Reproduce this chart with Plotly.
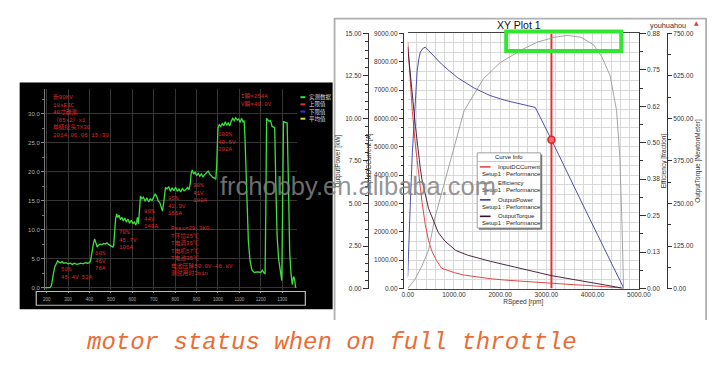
import plotly.graph_objects as go

W, H = 721, 373
def px(x): return x / W
def py(y): return 1 - y / H

# ---------------- left panel: thrust test log ----------------
log_x = [193, 215, 222, 226, 232, 238, 245, 252, 258, 265, 272, 280, 290, 300, 310, 320, 330, 340, 350, 360, 370, 380, 390, 400, 405,
         410, 418, 424, 430, 436, 442, 450, 458, 466, 474, 482, 490, 498, 505, 510,
         513, 517, 522, 527, 532, 538, 545, 552, 558, 565, 572, 580, 587, 595, 603, 610, 616, 620, 624, 629, 633,
         638, 645, 652, 660, 668, 676, 684, 692, 700, 707, 714, 721, 728, 735, 741, 746, 750, 755,
         762, 770, 778, 786, 794, 802, 810, 818, 826, 834, 842, 850, 858, 865, 871, 875, 880,
         886, 893, 900, 908, 915, 922, 930, 938, 946, 954, 961, 968, 976, 984, 990, 994, 997,
         1000, 1006, 1013, 1020, 1027, 1034, 1041, 1048, 1055, 1062, 1069, 1076, 1083, 1090, 1097, 1104, 1110, 1117, 1122, 1126,
         1129, 1135, 1142, 1150, 1159, 1170, 1185, 1200, 1208, 1215, 1220,
         1223, 1227, 1238, 1245, 1253, 1265, 1270, 1276, 1283, 1291, 1298,
         1302, 1306, 1314, 1323, 1329, 1335, 1341, 1347, 1353, 1358, 1362, 1367]
log_y = [0, 0, 0.3, 1.5, 2.5, 3.6, 4.1, 4.6, 4.4, 4.3, 4.5, 4.2, 4.3, 4.1, 4.2, 4.0, 4.2, 4.0, 4.1, 4.2, 4.1, 4.3, 4.2, 4.3, 4.6,
         6.0, 7.5, 8.4, 7.6, 7.0, 7.3, 7.5, 7.4, 7.6, 7.5, 7.7, 7.4, 7.2, 7.1, 7.0,
         7.3, 9.8, 11.8, 12.7, 12.1, 12.5, 11.7, 12.1, 11.5, 12.0, 11.3, 11.8, 11.1, 11.6, 11.0, 11.4, 10.8, 11.2, 12.1, 11.0, 13.5,
         15.8, 15.3, 15.6, 14.9, 15.5, 14.8, 15.3, 15.0, 15.8, 16.2, 15.7, 14.9, 14.7, 13.8, 13.2, 14.5, 16.5, 17.3,
         17.0, 17.4, 16.6, 17.2, 16.7, 17.3, 16.6, 17.0, 16.5, 17.1, 16.7, 16.9, 17.3, 16.9, 18.0, 19.8, 20.3,
         19.6, 19.9, 19.3, 19.7, 19.2, 19.6, 19.1, 19.5, 19.8, 20.1, 19.6, 19.3, 19.0, 18.9, 18.7, 21.0, 25.5,
         27.6, 28.1, 27.8, 28.3, 27.9, 28.6, 28.0, 28.4, 27.9, 28.7, 29.2, 28.8, 29.3, 28.9, 29.1, 28.5, 29.2, 28.6, 28.8, 26.0,
         22.0, 15.0, 8.0, 4.5, 3.0, 2.6, 2.7, 2.6, 3.0, 2.5, 2.4,
         12.0, 29.2, 28.7, 28.8, 27.8, 27.6, 18.0, 9.0, 5.0, 2.8, 1.2,
         15.0, 28.7, 28.5, 28.4, 18.0, 6.0, 2.5, 0.5, 1.9, 1.5, 0.1, 0]
log_xticks = [200, 300, 400, 500, 600, 700, 800, 900, 1000, 1100, 1200, 1300]
log_yticks = [0, 5, 10, 15, 20, 25, 30]
log_legend_names = ["实测数据", "上限值", "下限值", "平均值"]
log_legend_colors = ["#3ee03e", "#e03030", "#3030e0", "#d8d840"]

info_lines = ["新90KV", "18sE3C", "40寸碳桨", "（65x2）x1", "单级接头TX30", "2014.06.06 15:30"]
peak_lines = ["I瞬=254A", "V瞬=40.0V"]
step_texts = [["50%", "45.4V 52A"], ["60%", "46V", "76A"], ["70%", "45.7V", "106A"],
              ["80%", "44V", "140A"], ["85%", "42.9V", "156A"], ["90%", "41V", "180A"],
              ["100%", "40.5V", "202A"]]
step_pos = [(55, 270.7), (90, 254), (115, 232.7), (140, 211), (165, 198.3), (190.7, 185), (216, 132.7)]
summary_lines = ["Pmax=29.3KG", "T环境25℃", "T电调35℃", "T电机57℃", "T电池35℃", "电池压降50.0V-46.8V", "测试用时3min"]

# ---------------- right panel: XY Plot 1 ----------------
cur_rpm = [0, 50, 100, 170, 240, 310, 380, 450, 520, 620, 730, 850, 1010, 1200, 1500, 1800, 2100, 2500, 2800, 3200, 3600, 3900, 4200, 4450, 4650]
cur_amp = [8700, 7500, 6250, 5000, 3950, 3050, 2250, 1700, 1330, 1000, 720, 640, 560, 480, 400, 345, 300, 250, 215, 170, 135, 110, 80, 45, 15]

pow_rpm = [0, 15, 28, 45, 63, 100, 133, 170, 204, 240, 274, 320, 380, 450, 550, 730, 900, 1080, 1430, 1780, 2130, 2480, 2760, 3110, 3450, 3750, 4100, 4400, 4590, 4670]
pow_kw = [0.7, 1.5, 2.8, 4.2, 5.7, 8.0, 9.5, 11.3, 12.8, 13.5, 13.9, 14.1, 14.2, 14.0, 13.7, 13.2, 12.8, 12.4, 11.8, 11.35, 11.05, 10.85, 10.65, 8.75, 6.8, 5.15, 3.2, 1.5, 0.5, 0.05]

eff_rpm = [0, 150, 300, 449, 590, 800, 975, 1220, 1640, 2000, 2480, 2800, 3180, 3450, 3750, 4020, 4200, 4380, 4520, 4590, 4640, 4670]
eff_val = [0, 0.03, 0.075, 0.13, 0.244, 0.367, 0.468, 0.61, 0.72, 0.775, 0.82, 0.845, 0.862, 0.868, 0.862, 0.836, 0.795, 0.73, 0.61, 0.45, 0.2, 0]

trq_rpm = [0, 50, 98, 168, 274, 309, 449, 590, 660, 800, 1040, 1300, 1790, 2480, 3110, 3700, 4240, 4500, 4670]
trq_nm = [710, 640, 572, 476, 352, 320, 236, 190, 165, 140, 112, 98, 80, 58, 38, 24, 12, 5, 0]

marker_rpm = 3110
marker_kw = 8.75

eff_tickvals = [0, 0.125, 0.25, 0.375, 0.5, 0.625, 0.75, 0.875]
eff_ticktext = ["0.00", "0.13", "0.25", "0.38", "0.50", "0.62", "0.75", "0.88"]

curve_names = ["InputDCCurrent", "Efficiency", "OutputPower", "OutputTorque"]
curve_colors = ["#e04848", "#9a9a9a", "#3c3ca0", "#3a1030"]
setup_label = "Setup1 : Performance"

caption = "motor status when on full throttle"
watermark = "frchobby.en.alibaba.com"

fig = go.Figure()

# left chart trace
fig.add_trace(go.Scatter(x=log_x, y=log_y, xaxis="x", yaxis="y", mode="lines",
                         line=dict(color=log_legend_colors[0], width=1.3),
                         name=log_legend_names[0], showlegend=False))

# right chart traces
fig.add_trace(go.Scatter(x=eff_rpm, y=eff_val, xaxis="x2", yaxis="y4", mode="lines",
                         line=dict(color=curve_colors[1], width=0.9), name=curve_names[1], showlegend=False))
fig.add_trace(go.Scatter(x=trq_rpm, y=trq_nm, xaxis="x2", yaxis="y5", mode="lines",
                         line=dict(color=curve_colors[3], width=0.9), name=curve_names[3], showlegend=False))
fig.add_trace(go.Scatter(x=pow_rpm, y=pow_kw, xaxis="x2", yaxis="y3", mode="lines",
                         line=dict(color=curve_colors[2], width=0.9), name=curve_names[2], showlegend=False))
fig.add_trace(go.Scatter(x=cur_rpm, y=cur_amp, xaxis="x2", yaxis="y2", mode="lines",
                         line=dict(color=curve_colors[0], width=1), name=curve_names[0], showlegend=False))
fig.add_trace(go.Scatter(x=[marker_rpm, marker_rpm], y=[0, 9000], xaxis="x2", yaxis="y2", mode="lines",
                         line=dict(color="#e03434", width=2), name="marker", showlegend=False))
fig.add_trace(go.Scatter(x=[marker_rpm], y=[marker_kw], xaxis="x2", yaxis="y3", mode="markers",
                         marker=dict(size=7, color="#f47070", line=dict(color="#e02020", width=1.5)),
                         name="marker point", showlegend=False))

axfont = dict(family="Liberation Sans, Arial", size=6.5, color="#333")
ttlfont = dict(family="Liberation Sans, Arial", size=6.5, color="#333")

fig.update_layout(
    width=W, height=H, margin=dict(l=0, r=0, t=0, b=0),
    paper_bgcolor="white", plot_bgcolor="rgba(0,0,0,0)",
    showlegend=False,
    xaxis=dict(domain=[px(40), px(298)], range=[192.3, 1367], anchor="y",
               tickvals=log_xticks, tickfont=dict(family="Liberation Sans", size=4.5, color="#aaa"),
               ticks="outside", ticklen=2, tickcolor="#888", showgrid=True, gridcolor="#353535",
               zeroline=False, showline=False, ticklabelstandoff=3),
    yaxis=dict(domain=[py(291), py(87)], range=[-0.34, 34.2], anchor="x",
               tickvals=log_yticks, tickformat=".1f",
               tickfont=dict(family="Liberation Sans", size=6, color="#b0b0b0"),
               ticks="outside", ticklen=3, tickcolor="#888",
               minor=dict(dtick=2.5, ticks="outside", ticklen=2, tickcolor="#777"),
               showgrid=True, gridcolor="#353535", zeroline=False,
               showline=True, linecolor="#777", linewidth=1),
    xaxis2=dict(domain=[px(412), px(649)], range=[0, 5000], anchor="y2",
                dtick=1000, tick0=0, tickformat=".2f", tickfont=axfont,
                showgrid=True, gridcolor="#d9d9d9",
                minor=dict(dtick=200, showgrid=True, gridcolor="#d9d9d9"),
                showline=True, linecolor="#444", linewidth=1, mirror=True, zeroline=False,
                ticks="", title=dict(text="RSpeed [rpm]", font=ttlfont, standoff=1)),
    yaxis2=dict(domain=[py(290), py(30)], range=[0, 9000], anchor="free", position=px(407),
                dtick=1000, tickformat=".2f", tickfont=axfont,
                ticks="outside", ticklen=4, tickcolor="#333",
                showgrid=True, gridcolor="#d9d9d9",
                minor=dict(dtick=1000 / 3, showgrid=True, gridcolor="#d9d9d9",
                           ticks="outside", ticklen=2, tickcolor="#333"),
                showline=True, linecolor="#333", linewidth=1, zeroline=False,
                title=dict(text="InputDCCurrent [A]", font=ttlfont, standoff=0)),
    yaxis3=dict(overlaying="y2", range=[0, 15], anchor="free", position=px(371), side="left",
                dtick=2.5, tickformat=".2f", tickfont=axfont,
                ticks="outside", ticklen=5, tickcolor="#333",
                minor=dict(dtick=0.5, ticks="outside", ticklen=3, tickcolor="#333"),
                showgrid=False, showline=True, linecolor="#333", linewidth=1, zeroline=False,
                title=dict(text="OutputPower [kW]", font=ttlfont, standoff=2)),
    yaxis4=dict(overlaying="y2", range=[0, 0.875], anchor="x2", side="right",
                tickvals=eff_tickvals, ticktext=eff_ticktext, tickfont=axfont,
                ticks="outside", ticklen=6, tickcolor="#333",
                minor=dict(dtick=0.0625, ticks="outside", ticklen=3, tickcolor="#333"),
                showgrid=False, showline=True, linecolor="#333", linewidth=1, zeroline=False,
                title=dict(text="Efficiency [fraction]", font=ttlfont, standoff=1)),
    yaxis5=dict(overlaying="y2", range=[0, 750], anchor="free", position=px(678), side="right",
                dtick=125, tickformat=".2f", tickfont=axfont,
                ticks="outside", ticklen=4, tickcolor="#333",
                minor=dict(dtick=62.5, ticks="outside", ticklen=3, tickcolor="#333"),
                showgrid=False, showline=True, linecolor="#333", linewidth=1, zeroline=False,
                title=dict(text="OutputTorque [NewtonMeter]", font=ttlfont, standoff=2)),
)

shapes = []
# black panel of the left chart
shapes.append(dict(type="rect", xref="paper", yref="paper", x0=px(14), x1=px(335), y0=py(311), y1=py(80),
                   fillcolor="black", line=dict(width=0), layer="below"))
# box around left x labels
shapes.append(dict(type="rect", xref="paper", yref="paper", x0=px(31), x1=px(307), y0=py(307), y1=py(293),
                   fillcolor="rgba(0,0,0,0)", line=dict(color="#bbbbbb", width=1.2), layer="above"))
# frame of the right chart
shapes.append(dict(type="path", xref="paper", yref="paper",
                   path=f"M {px(337)},{py(322)} L {px(337)},{py(15)} L {px(718)},{py(15)} L {px(718)},{py(322)}",
                   line=dict(color="#b0b0b0", width=1.8), layer="below"))
# left legend samples
for i, c in enumerate(log_legend_colors):
    yy = 95 + i * 7.3
    shapes.append(dict(type="line", xref="paper", yref="paper", x0=px(302), x1=px(307), y0=py(yy), y1=py(yy),
                       line=dict(color=c, width=2)))
# right legend box with shadow
shapes.append(dict(type="rect", xref="paper", yref="paper", x0=px(485), x1=px(550), y0=py(230), y1=py(153.5),
                   fillcolor="#777", line=dict(width=0)))
shapes.append(dict(type="rect", xref="paper", yref="paper", x0=px(483.3), x1=px(548.3), y0=py(228.3), y1=py(151.7),
                   fillcolor="white", line=dict(color="#888", width=0.8)))
shapes.append(dict(type="line", xref="paper", yref="paper", x0=px(483.3), x1=px(548.3), y0=py(160.5), y1=py(160.5),
                   line=dict(color="#aaa", width=0.6)))
for i, c in enumerate(curve_colors):
    yy = 166 + i * 16.8
    shapes.append(dict(type="line", xref="paper", yref="paper", x0=px(486), x1=px(497), y0=py(yy), y1=py(yy),
                       line=dict(color=c, width=1.6)))
# highlight rectangle
shapes.append(dict(type="rect", xref="paper", yref="paper", x0=px(513), x1=px(631), y0=py(48), y1=py(28),
                   fillcolor="rgba(0,0,0,0)", line=dict(color="#33e633", width=4)))

ann = []
red_font = dict(family="Liberation Mono, Noto Sans CJK SC", size=5.8, color="#dd2a2a")
def block(lines, x, ycenter):
    ann.append(dict(xref="paper", yref="paper", x=px(x), y=py(ycenter - 4.6), xanchor="left", yanchor="top",
                    text="<br>".join(lines), showarrow=False, align="left", font=red_font, borderpad=0))

block(info_lines, 47.3, 94.3)
block(peak_lines, 240, 93.3)
for t, (x, y) in zip(step_texts, step_pos):
    block(t, x, y)
block(summary_lines, 168.3, 228.3)

# left legend texts
for i, n in enumerate(log_legend_names):
    yy = 95 + i * 7.3
    ann.append(dict(xref="paper", yref="paper", x=px(309), y=py(yy), xanchor="left", yanchor="middle",
                    text=n, showarrow=False, font=dict(family="Noto Sans CJK SC", size=5.5, color="#dddddd")))

# right legend texts
lf = dict(family="Liberation Sans, Arial", size=6, color="#222")
ann.append(dict(xref="paper", yref="paper", x=px(515.8), y=py(156), text="Curve Info", showarrow=False,
                font=lf, xanchor="center", yanchor="middle"))
for i, n in enumerate(curve_names):
    yy = 166 + i * 16.8
    ann.append(dict(xref="paper", yref="paper", x=px(503), y=py(yy), text=n, showarrow=False,
                    font=lf, xanchor="left", yanchor="middle"))
    ann.append(dict(xref="paper", yref="paper", x=px(486), y=py(yy + 7.2), text=setup_label, showarrow=False,
                    font=lf, xanchor="left", yanchor="middle"))

# right chart title etc.
ann.append(dict(xref="paper", yref="paper", x=px(525.7), y=py(21), text="XY Plot 1", showarrow=False,
                font=dict(family="Liberation Sans, Arial", size=10.5, color="#111"), xanchor="center", yanchor="middle"))
ann.append(dict(xref="paper", yref="paper", x=px(679), y=py(21.7), text="youhuahou", showarrow=False,
                font=dict(family="Liberation Sans, Arial", size=7.3, color="#333"), xanchor="center", yanchor="middle"))
ann.append(dict(xref="paper", yref="paper", x=px(708), y=py(19.3), text="▲", showarrow=False,
                font=dict(family="DejaVu Sans", size=6, color="#d04040"), xanchor="center", yanchor="middle"))

# watermark
ann.append(dict(xref="paper", yref="paper", x=px(361), y=py(185), text=watermark, showarrow=False,
                font=dict(family="Liberation Sans, Arial", size=25.5, color="rgba(130,130,130,0.85)"),
                xanchor="center", yanchor="middle"))

# caption (italic monospace)
ann.append(dict(xref="paper", yref="paper", x=px(334), y=py(345), text="<i>" + caption + "</i>", showarrow=False,
                font=dict(family="Liberation Mono", size=24, color="#ec6c34", style="italic"),
                xanchor="center", yanchor="middle"))

fig.update_layout(shapes=shapes, annotations=ann)
fig.write_html("out.html")
